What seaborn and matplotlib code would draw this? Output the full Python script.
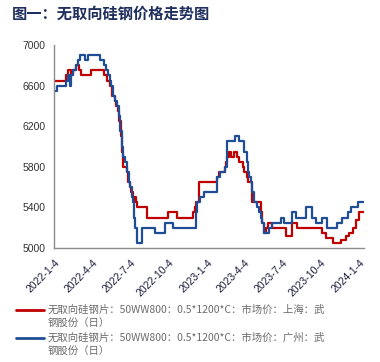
import pandas as pd
import matplotlib
matplotlib.use("Agg")
import matplotlib.pyplot as plt
from matplotlib.lines import Line2D
import seaborn as sns

# 上海 (red) step breakpoints
red_dates = ["2022-01-04", "2022-01-31", "2022-02-05", "2022-02-12", "2022-02-17",
             "2022-02-23", "2022-03-03", "2022-03-07", "2022-04-01", "2022-05-01",
             "2022-05-08", "2022-05-16", "2022-05-20", "2022-05-28", "2022-05-31",
             "2022-06-04", "2022-06-07", "2022-06-11", "2022-06-14", "2022-06-17",
             "2022-06-25", "2022-06-29", "2022-07-03", "2022-07-06", "2022-07-10",
             "2022-07-13", "2022-07-16", "2022-07-18", "2022-07-21", "2022-08-12",
             "2022-10-02", "2022-10-24", "2022-12-01", "2022-12-06", "2022-12-09",
             "2022-12-15", "2023-01-28", "2023-02-02", "2023-02-16", "2023-02-18",
             "2023-02-21", "2023-02-26", "2023-03-02", "2023-03-09", "2023-03-17",
             "2023-03-23", "2023-03-31", "2023-04-04", "2023-04-09", "2023-04-13",
             "2023-04-23", "2023-05-13", "2023-05-16", "2023-05-20", "2023-05-26",
             "2023-05-30", "2023-06-08", "2023-07-12", "2023-07-26", "2023-08-07",
             "2023-10-06", "2023-10-17", "2023-11-02", "2023-11-22", "2023-12-04",
             "2023-12-12", "2023-12-20", "2023-12-28", "2024-01-05", "2024-01-15"]
red_values = [6650, 6700, 6750, 6700, 6750,
              6800, 6750, 6700, 6750, 6700,
              6650, 6600, 6500, 6450, 6400,
              6350, 6250, 6100, 5950, 5800,
              5750, 5650, 5600, 5550, 5500,
              5450, 5500, 5450, 5400, 5300,
              5350, 5300, 5350, 5400, 5450,
              5650, 5700, 5750, 5800, 5850,
              5900, 5950, 5900, 5950, 5900,
              5850, 5800, 5750, 5700, 5650,
              5450, 5350, 5250, 5150, 5200,
              5250, 5200, 5120, 5250, 5200,
              5150, 5100, 5050, 5080, 5120,
              5150, 5200, 5280, 5350, 5350]

# 广州 (blue) step breakpoints
blue_dates = ["2022-01-04", "2022-01-10", "2022-01-30", "2022-02-05", "2022-02-10",
              "2022-02-12", "2022-02-17", "2022-02-23", "2022-03-01", "2022-03-05",
              "2022-03-17", "2022-03-24", "2022-04-22", "2022-05-01", "2022-05-06",
              "2022-05-11", "2022-05-16", "2022-05-19", "2022-05-23", "2022-05-29",
              "2022-06-03", "2022-06-06", "2022-06-10", "2022-06-13", "2022-06-17",
              "2022-06-22", "2022-06-27", "2022-06-30", "2022-07-04", "2022-07-08",
              "2022-07-11", "2022-07-13", "2022-07-16", "2022-07-19", "2022-07-31",
              "2022-09-01", "2022-09-25", "2022-10-15", "2022-12-08", "2022-12-12",
              "2022-12-18", "2022-12-27", "2023-01-28", "2023-02-04", "2023-02-16",
              "2023-02-21", "2023-03-12", "2023-03-23", "2023-04-04", "2023-04-09",
              "2023-04-13", "2023-04-16", "2023-04-19", "2023-04-23", "2023-04-27",
              "2023-05-03", "2023-05-09", "2023-05-13", "2023-05-17", "2023-05-21",
              "2023-06-02", "2023-06-10", "2023-07-01", "2023-07-08", "2023-07-27",
              "2023-08-05", "2023-08-29", "2023-09-14", "2023-09-22", "2023-10-06",
              "2023-10-18", "2023-11-11", "2023-11-23", "2023-12-08", "2023-12-16",
              "2024-01-01", "2024-01-15"]
blue_values = [6550, 6600, 6650, 6700, 6600,
               6700, 6750, 6800, 6850, 6900,
               6850, 6900, 6850, 6800, 6750,
               6700, 6650, 6600, 6500, 6450,
               6400, 6300, 6150, 6000, 5900,
               5850, 5750, 5650, 5600, 5500,
               5450, 5300, 5200, 5050, 5200,
               5150, 5250, 5200, 5350, 5450,
               5500, 5550, 5700, 5750, 5800,
               6050, 6100, 6050, 5950, 5850,
               5750, 5700, 5650, 5550, 5450,
               5400, 5350, 5300, 5250, 5150,
               5200, 5250, 5300, 5250, 5350,
               5300, 5400, 5300, 5250, 5300,
               5200, 5250, 5300, 5350, 5400,
               5450, 5450]

series_names = ["无取向硅钢片：50WW800：0.5*1200*C：市场价：上海：武钢股份（日）",
                "无取向硅钢片：50WW800：0.5*1200*C：市场价：广州：武钢股份（日）"]
legend_lines = [["无取向硅钢片：50WW800：0.5*1200*C：市场价：上海：武", "钢股份（日）"],
                ["无取向硅钢片：50WW800：0.5*1200*C：市场价：广州：武", "钢股份（日）"]]
colors = ["#c00000", "#1f4e96"]

tick_dates = ["2022-01-04", "2022-04-04", "2022-07-04", "2022-10-04", "2023-01-04",
              "2023-04-04", "2023-07-04", "2023-10-04", "2024-01-04"]
tick_labels = ["2022-1-4", "2022-4-4", "2022-7-4", "2022-10-4", "2023-1-4",
               "2023-4-4", "2023-7-4", "2023-10-4", "2024-1-4"]
y_ticks = [5000, 5400, 5800, 6200, 6600, 7000]
title = "图一：无取向硅钢价格走势图"

df = pd.concat([
    pd.DataFrame({"date": pd.to_datetime(red_dates), "price": red_values, "series": series_names[0]}),
    pd.DataFrame({"date": pd.to_datetime(blue_dates), "price": blue_values, "series": series_names[1]}),
])

sns.set_style("white")
plt.rcParams["font.family"] = ["Noto Sans CJK SC", "DejaVu Sans"]

W, H = 380, 362
fig = plt.figure(figsize=(W / 100, H / 100), dpi=100)
ax = fig.add_axes([54 / W, 1 - 248 / H, 310 / W, 203 / H])

sns.lineplot(data=df, x="date", y="price", hue="series", palette=colors,
             drawstyle="steps-post", linewidth=1.6, legend=False, ax=ax)

ax.set_xlim(pd.Timestamp("2022-01-02"), pd.Timestamp("2024-01-16"))
ax.set_ylim(5000, 7000)
ax.set_yticks(y_ticks)
ax.set_xticks(pd.to_datetime(tick_dates))
ax.set_xticklabels(tick_labels, rotation=45, ha="right", rotation_mode="anchor",
                   family="Liberation Sans", fontsize=7.5, color="#1a1a3a")
ax.set_yticklabels([str(v) for v in y_ticks], family="Liberation Sans",
                   fontsize=7.5, color="#333333")
ax.set_xlabel("")
ax.set_ylabel("")
for side in ["top", "right"]:
    ax.spines[side].set_visible(False)
for side in ["left", "bottom"]:
    ax.spines[side].set_color("#8c8c8c")
    ax.spines[side].set_linewidth(1.0)
ax.tick_params(axis="both", direction="out", length=4, width=1.0, color="#8c8c8c", pad=2)
ax.tick_params(axis="x", pad=3)

fig.text(12 / W, 1 - 14 / H, title, fontsize=11, fontweight="bold",
         color="#1f2f5e", va="center", ha="left")

# legend below the plot: handle beside the first text line, label wraps
entry_y = [310, 338]
for color, lines, y0 in zip(colors, legend_lines, entry_y):
    fig.add_artist(Line2D([16 / W, 44 / W], [1 - y0 / H, 1 - y0 / H],
                          color=color, linewidth=2, transform=fig.transFigure))
    for i, line in enumerate(lines):
        fig.text(48 / W, 1 - (y0 + 14 * i) / H, line, fontsize=7.5,
                 color="#6b6b6b", va="center", ha="left")

fig.savefig("out.png", dpi=100)
